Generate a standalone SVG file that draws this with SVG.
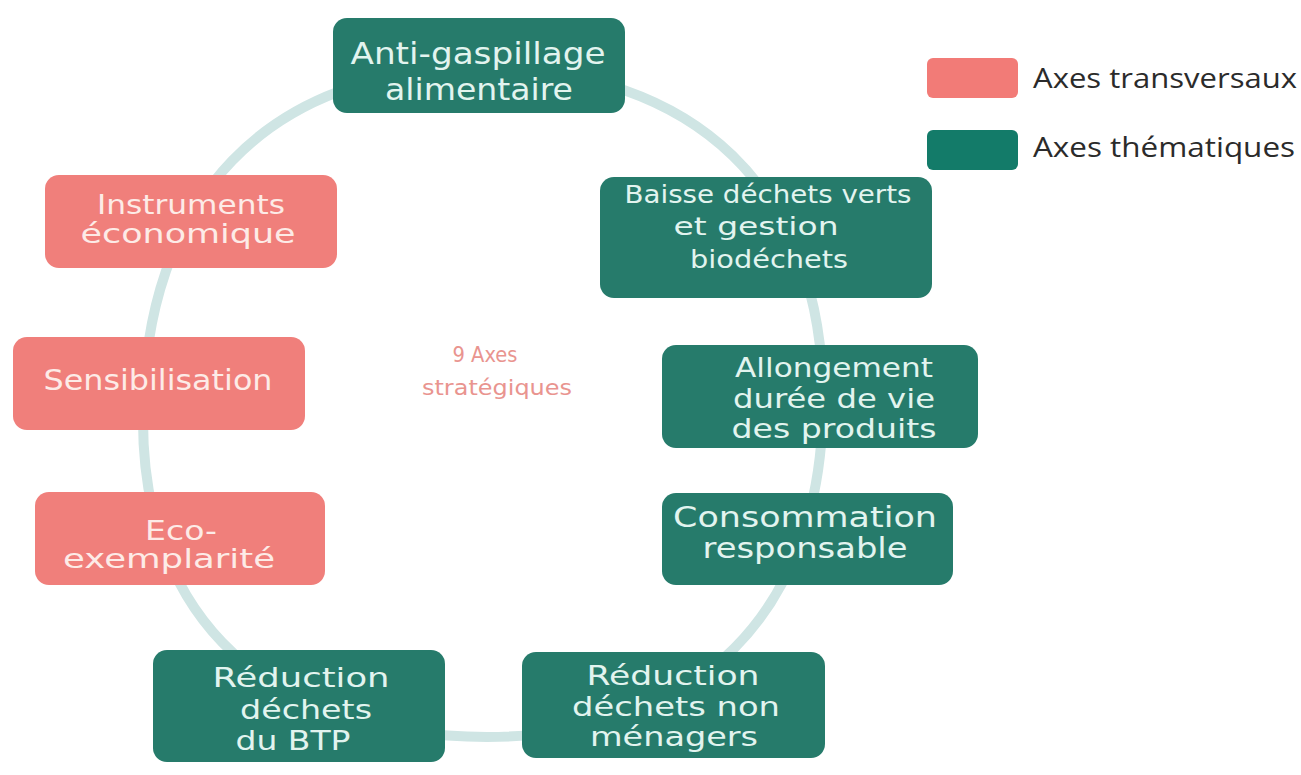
<svg xmlns="http://www.w3.org/2000/svg" width="1301" height="775" viewBox="0 0 1301 775">
<style>
.bg{fill:#ffffff}
.ring{fill:none;stroke:#cfe5e4;stroke-width:10}
.teal{fill:#267b6b}
.pink{fill:#f07f7b}
.lteal{fill:#137b69}
.lpink{fill:#f27b77}
text{font-family:"DejaVu Sans","Liberation Sans",sans-serif;text-anchor:middle}
.tt{fill:#e2f4ef}
.pt{fill:#fdebe7}
.ct{fill:#e9948f;font-size:22px}
.leg{fill:#2b2b2b;font-family:"Open Sans","DejaVu Sans",sans-serif;font-size:27px;text-anchor:start}
</style>
<rect class="bg" x="0" y="0" width="1301" height="775"/>
<g id="connectors">
<path class="ring" d="M481,68 C696,68 823,191 823,400 C823,612 699,737 487,737 C270,737 143,620 143,420 C143,198 268,68 481,68 Z"/>
</g>
<g id="center-label">
<text class="ct" x="485" y="362" textLength="65" lengthAdjust="spacingAndGlyphs">9 Axes</text>
<text class="ct" x="497" y="395" textLength="150" lengthAdjust="spacingAndGlyphs">stratégiques</text>
</g>
<g id="node-anti-gaspillage">
<rect class="teal" x="333" y="18" width="292" height="95" rx="14"/>
<text class="tt" x="478" y="64" font-size="30" textLength="255" lengthAdjust="spacingAndGlyphs">Anti-gaspillage</text>
<text class="tt" x="479" y="100" font-size="30" textLength="188" lengthAdjust="spacingAndGlyphs">alimentaire</text>
</g>
<g id="node-instruments">
<rect class="pink" x="45" y="175" width="292" height="93" rx="14"/>
<text class="pt" x="191" y="214" font-size="26" textLength="188" lengthAdjust="spacingAndGlyphs">Instruments</text>
<text class="pt" x="188" y="243" font-size="26" textLength="215" lengthAdjust="spacingAndGlyphs">économique</text>
</g>
<g id="node-sensibilisation">
<rect class="pink" x="13" y="337" width="292" height="93" rx="14"/>
<text class="pt" x="158" y="390" font-size="28" textLength="229" lengthAdjust="spacingAndGlyphs">Sensibilisation</text>
</g>
<g id="node-eco">
<rect class="pink" x="35" y="492" width="290" height="93" rx="14"/>
<text class="pt" x="181" y="540" font-size="26" textLength="72" lengthAdjust="spacingAndGlyphs">Eco-</text>
<text class="pt" x="169" y="568" font-size="26" textLength="212" lengthAdjust="spacingAndGlyphs">exemplarité</text>
</g>
<g id="node-btp">
<rect class="teal" x="153" y="650" width="292" height="112" rx="14"/>
<text class="tt" x="301" y="687" font-size="27" textLength="177" lengthAdjust="spacingAndGlyphs">Réduction</text>
<text class="tt" x="306" y="719" font-size="27" textLength="132" lengthAdjust="spacingAndGlyphs">déchets</text>
<text class="tt" x="293" y="750" font-size="27" textLength="115" lengthAdjust="spacingAndGlyphs">du BTP</text>
</g>
<g id="node-baisse">
<rect class="teal" x="600" y="177" width="332" height="121" rx="14"/>
<text class="tt" x="768" y="203" font-size="25" textLength="287" lengthAdjust="spacingAndGlyphs">Baisse déchets verts</text>
<text class="tt" x="756" y="235" font-size="25" textLength="165" lengthAdjust="spacingAndGlyphs">et gestion</text>
<text class="tt" x="769" y="268" font-size="25" textLength="158" lengthAdjust="spacingAndGlyphs">biodéchets</text>
</g>
<g id="node-allongement">
<rect class="teal" x="662" y="345" width="316" height="103" rx="14"/>
<text class="tt" x="834" y="377" font-size="27" textLength="198" lengthAdjust="spacingAndGlyphs">Allongement</text>
<text class="tt" x="834" y="408" font-size="27" textLength="202" lengthAdjust="spacingAndGlyphs">durée de vie</text>
<text class="tt" x="834" y="438" font-size="27" textLength="205" lengthAdjust="spacingAndGlyphs">des produits</text>
</g>
<g id="node-consommation">
<rect class="teal" x="662" y="493" width="291" height="92" rx="14"/>
<text class="tt" x="805" y="527" font-size="28" textLength="264" lengthAdjust="spacingAndGlyphs">Consommation</text>
<text class="tt" x="805" y="558" font-size="28" textLength="205" lengthAdjust="spacingAndGlyphs">responsable</text>
</g>
<g id="node-non-menagers">
<rect class="teal" x="522" y="652" width="303" height="106" rx="14"/>
<text class="tt" x="673" y="685" font-size="27" textLength="173" lengthAdjust="spacingAndGlyphs">Réduction</text>
<text class="tt" x="676" y="716" font-size="27" textLength="208" lengthAdjust="spacingAndGlyphs">déchets non</text>
<text class="tt" x="674" y="746" font-size="27" textLength="168" lengthAdjust="spacingAndGlyphs">ménagers</text>
</g>
<g id="legend">
<rect class="lpink" x="927" y="58" width="91" height="40" rx="6"/>
<text class="leg" x="1033" y="88" textLength="264" lengthAdjust="spacingAndGlyphs">Axes transversaux</text>
<rect class="lteal" x="927" y="130" width="91" height="40" rx="6"/>
<text class="leg" x="1033" y="157" textLength="262" lengthAdjust="spacingAndGlyphs">Axes thématiques</text>
</g>
</svg>
